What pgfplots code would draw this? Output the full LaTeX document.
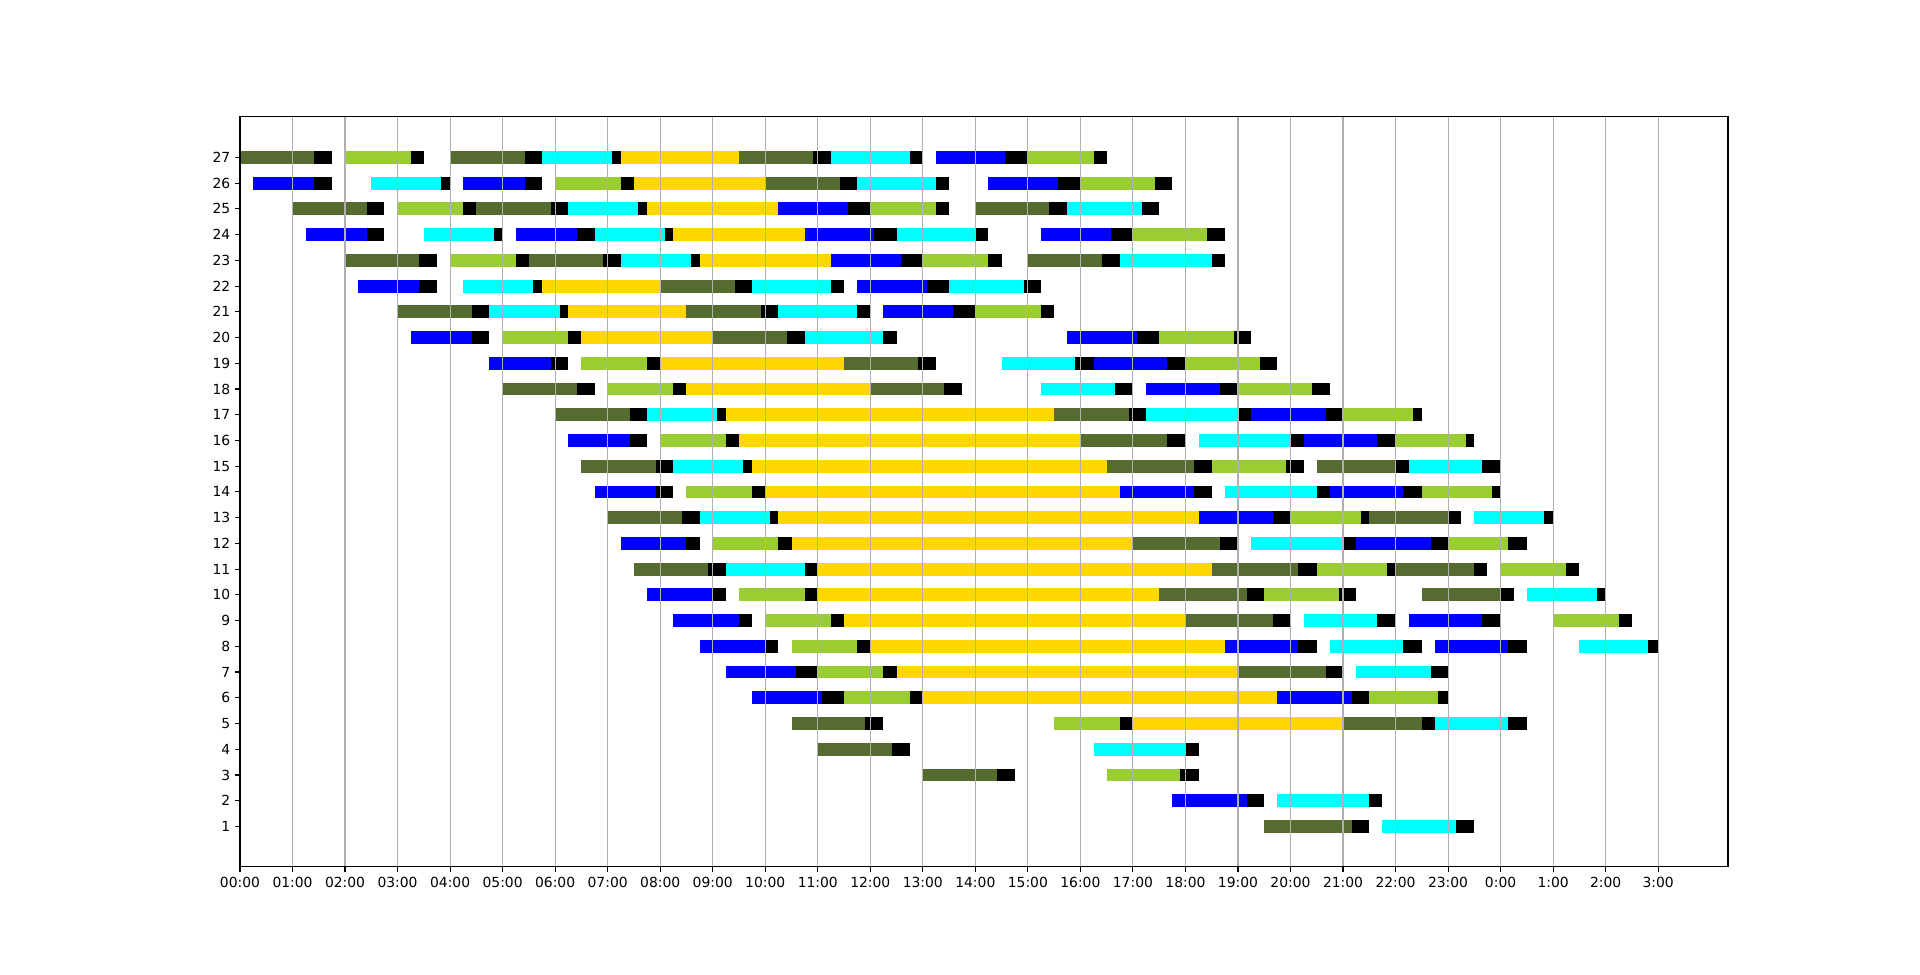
\documentclass[border=0pt]{standalone}
\usepackage{pgfplots}
\pgfplotsset{compat=1.18}
\usepackage{pgfplotstable}
\usepackage{fontspec}
\setmainfont{DejaVu Sans}
\definecolor{olivec}{HTML}{556B2F}
\definecolor{ygc}{HTML}{9ACD32}
\definecolor{bluec}{HTML}{0000FF}
\definecolor{cyanc}{HTML}{00FFFF}
\definecolor{goldc}{HTML}{FFD700}
\definecolor{gridc}{HTML}{B0B0B0}

\pgfplotstableread{
s e r
0 1.417 27
4.0 5.417 27
9.5 10.917 27
10.0 11.417 26
1.0 2.417 25
4.5 5.917 25
14.0 15.4 25
2.0 3.417 23
5.5 6.917 23
15.0 16.417 23
8.0 9.417 22
3.0 4.417 21
8.5 9.917 21
9.0 10.417 20
11.5 12.917 19
5.0 6.417 18
12.0 13.4 18
6.0 7.417 17
15.5 16.917 17
16.0 17.65 16
6.5 7.917 15
16.5 18.167 15
20.5 22.0 15
7.0 8.417 13
21.5 23.0 13
17.0 18.667 12
7.5 8.917 11
18.5 20.15 11
22.0 23.5 11
17.5 19.167 10
22.5 24.0 10
18.0 19.667 9
19.0 20.667 7
10.5 11.9 5
21.0 22.5 5
11.0 12.417 4
13.0 14.417 3
19.5 21.167 1
}\olive

\pgfplotstableread{
s e r
2.0 3.25 27
15.0 16.25 27
6.0 7.25 26
16.0 17.417 26
3.0 4.25 25
12.0 13.25 25
17.0 18.417 24
4.0 5.25 23
13.0 14.25 23
14.0 15.25 21
5.0 6.25 20
17.5 18.917 20
6.5 7.75 19
18.0 19.417 19
7.0 8.25 18
19.0 20.417 18
21.0 22.333 17
8.0 9.25 16
22.0 23.333 16
18.5 19.917 15
8.5 9.75 14
22.5 23.833 14
20.0 21.333 13
9.0 10.25 12
23.0 24.15 12
20.5 21.833 11
24.0 25.25 11
9.5 10.75 10
19.5 20.917 10
10.0 11.25 9
25.0 26.25 9
10.5 11.75 8
11.0 12.25 7
11.5 12.75 6
21.5 22.8 6
15.5 16.75 5
16.5 17.9 3
}\yg

\pgfplotstableread{
s e r
13.25 14.56 27
0.25 1.417 26
4.25 5.417 26
14.25 15.583 26
10.25 11.583 25
1.25 2.417 24
5.25 6.417 24
10.75 12.067 24
15.25 16.583 24
11.25 12.583 23
2.25 3.417 22
11.75 13.083 22
12.25 13.583 21
3.25 4.417 20
15.75 17.083 20
4.75 5.917 19
16.25 17.65 19
17.25 18.667 18
19.25 20.667 17
6.25 7.417 16
20.25 21.65 16
6.75 7.917 14
16.75 18.167 14
20.75 22.15 14
18.25 19.667 13
7.25 8.5 12
21.25 22.667 12
7.75 9.0 10
8.25 9.5 9
22.25 23.65 9
8.75 10.0 8
18.75 20.15 8
22.75 24.15 8
9.25 10.583 7
9.75 11.083 6
19.75 21.167 6
17.75 19.167 2
}\blu

\pgfplotstableread{
s e r
5.75 7.083 27
11.25 12.75 27
2.5 3.833 26
11.75 13.25 26
6.25 7.583 25
15.75 17.167 25
3.5 4.833 24
6.75 8.083 24
12.5 14.0 24
7.25 8.583 23
16.75 18.5 23
4.25 5.583 22
9.75 11.25 22
13.5 14.917 22
4.75 6.083 21
10.25 11.75 21
10.75 12.25 20
14.5 15.9 19
15.25 16.667 18
7.75 9.083 17
17.25 19.0 17
18.25 20.0 16
8.25 9.583 15
22.25 23.65 15
18.75 20.5 14
8.75 10.083 13
23.5 24.833 13
19.25 21.0 12
9.25 10.75 11
24.5 25.833 10
20.25 21.65 9
20.75 22.15 8
25.5 26.8 8
21.25 22.667 7
22.75 24.15 5
16.25 18.0 4
19.75 21.5 2
21.75 23.15 1
}\cya

\pgfplotstableread{
s e r
7.25 9.5 27
7.5 10.0 26
7.75 10.25 25
8.25 10.75 24
8.75 11.25 23
5.75 8.0 22
6.25 8.5 21
6.5 9.0 20
8.0 11.5 19
8.5 12.0 18
9.25 15.5 17
9.5 16.0 16
9.75 16.5 15
10.0 16.75 14
10.25 18.25 13
10.5 17.0 12
11.0 18.5 11
11.0 17.5 10
11.5 18.0 9
12.0 18.75 8
12.5 19.0 7
13.0 19.75 6
17.0 21.0 5
}\gld

\pgfplotstableread{
s e r
1.417 1.75 27
3.25 3.5 27
5.417 5.75 27
7.083 7.25 27
10.917 11.25 27
12.75 13.0 27
14.56 15.0 27
16.25 16.5 27
1.417 1.75 26
3.833 4.0 26
5.417 5.75 26
7.25 7.5 26
11.417 11.75 26
13.25 13.5 26
15.583 16.0 26
17.417 17.75 26
2.417 2.75 25
4.25 4.5 25
5.917 6.25 25
7.583 7.75 25
11.583 12.0 25
13.25 13.5 25
15.4 15.75 25
17.167 17.5 25
2.417 2.75 24
4.833 5.0 24
6.417 6.75 24
8.083 8.25 24
12.067 12.5 24
14.0 14.25 24
16.583 17.0 24
18.417 18.75 24
3.417 3.75 23
5.25 5.5 23
6.917 7.25 23
8.583 8.75 23
12.583 13.0 23
14.25 14.5 23
16.417 16.75 23
18.5 18.75 23
3.417 3.75 22
5.583 5.75 22
9.417 9.75 22
11.25 11.5 22
13.083 13.5 22
14.917 15.25 22
4.417 4.75 21
6.083 6.25 21
9.917 10.25 21
11.75 12.0 21
13.583 14.0 21
15.25 15.5 21
4.417 4.75 20
6.25 6.5 20
10.417 10.75 20
12.25 12.5 20
17.083 17.5 20
18.917 19.25 20
5.917 6.25 19
7.75 8.0 19
12.917 13.25 19
15.9 16.25 19
17.65 18.0 19
19.417 19.75 19
6.417 6.75 18
8.25 8.5 18
13.4 13.75 18
16.667 17.0 18
18.667 19.0 18
20.417 20.75 18
7.417 7.75 17
9.083 9.25 17
16.917 17.25 17
19.0 19.25 17
20.667 21.0 17
22.333 22.5 17
7.417 7.75 16
9.25 9.5 16
17.65 18.0 16
20.0 20.25 16
21.65 22.0 16
23.333 23.5 16
7.917 8.25 15
9.583 9.75 15
18.167 18.5 15
19.917 20.25 15
22.0 22.25 15
23.65 24.0 15
7.917 8.25 14
9.75 10.0 14
18.167 18.5 14
20.5 20.75 14
22.15 22.5 14
23.833 24.0 14
8.417 8.75 13
10.083 10.25 13
19.667 20.0 13
21.333 21.5 13
23.0 23.25 13
24.833 25.0 13
8.5 8.75 12
10.25 10.5 12
18.667 19.0 12
21.0 21.25 12
22.667 23.0 12
24.15 24.5 12
8.917 9.25 11
10.75 11.0 11
20.15 20.5 11
21.833 22.0 11
23.5 23.75 11
25.25 25.5 11
9.0 9.25 10
10.75 11.0 10
19.167 19.5 10
20.917 21.25 10
24.0 24.25 10
25.833 26.0 10
9.5 9.75 9
11.25 11.5 9
19.667 20.0 9
21.65 22.0 9
23.65 24.0 9
26.25 26.5 9
10.0 10.25 8
11.75 12.0 8
20.15 20.5 8
22.15 22.5 8
24.15 24.5 8
26.8 27.0 8
10.583 11.0 7
12.25 12.5 7
20.667 21.0 7
22.667 23.0 7
11.083 11.5 6
12.75 13.0 6
21.167 21.5 6
22.8 23.0 6
11.9 12.25 5
16.75 17.0 5
22.5 22.75 5
24.15 24.5 5
12.417 12.75 4
18.0 18.25 4
14.417 14.75 3
17.9 18.25 3
19.167 19.5 2
21.5 21.75 2
21.167 21.5 1
23.15 23.5 1
}\blk

\begin{document}
\begin{tikzpicture}
\useasboundingbox (-172.8pt,-77.1pt) rectangle (1209.6pt,624.2pt);
\begin{axis}[
  scale only axis,
  width=1071.36pt, height=540pt,
  xmin=0, xmax=28.33,
  ymin=-0.575, ymax=28.575,
  xtick={0,1,...,27},
  xticklabels={00:00,01:00,02:00,03:00,04:00,05:00,06:00,07:00,08:00,09:00,10:00,11:00,12:00,13:00,14:00,15:00,16:00,17:00,18:00,19:00,20:00,21:00,22:00,23:00,0:00,1:00,2:00,3:00},
  ytick={1,2,...,27},
  /pgf/number format/assume math mode=true,
  tick label style={font=\fontsize{10}{12}\selectfont},
  tick align=outside,
  xtick pos=bottom, ytick pos=left,
  major tick length=3.5pt,
  every tick/.style={black, line width=0.8pt},
  axis line style={line width=0.8pt},
  xmajorgrids=true, ymajorgrids=false,
  major grid style={color=gridc, line width=0.8pt},
  axis on top,
  clip=true,
]
\addplot[draw=olivec, line width=9.26pt, line cap=butt, -, quiver={u=\thisrow{e}-\thisrow{s}, v=0}] table[x=s, y=r] {\olive};
\addplot[draw=ygc, line width=9.26pt, line cap=butt, -, quiver={u=\thisrow{e}-\thisrow{s}, v=0}] table[x=s, y=r] {\yg};
\addplot[draw=bluec, line width=9.26pt, line cap=butt, -, quiver={u=\thisrow{e}-\thisrow{s}, v=0}] table[x=s, y=r] {\blu};
\addplot[draw=cyanc, line width=9.26pt, line cap=butt, -, quiver={u=\thisrow{e}-\thisrow{s}, v=0}] table[x=s, y=r] {\cya};
\addplot[draw=goldc, line width=9.26pt, line cap=butt, -, quiver={u=\thisrow{e}-\thisrow{s}, v=0}] table[x=s, y=r] {\gld};
\addplot[draw=black, line width=9.26pt, line cap=butt, -, quiver={u=\thisrow{e}-\thisrow{s}, v=0}] table[x=s, y=r] {\blk};
\end{axis}
\end{tikzpicture}
\end{document}
